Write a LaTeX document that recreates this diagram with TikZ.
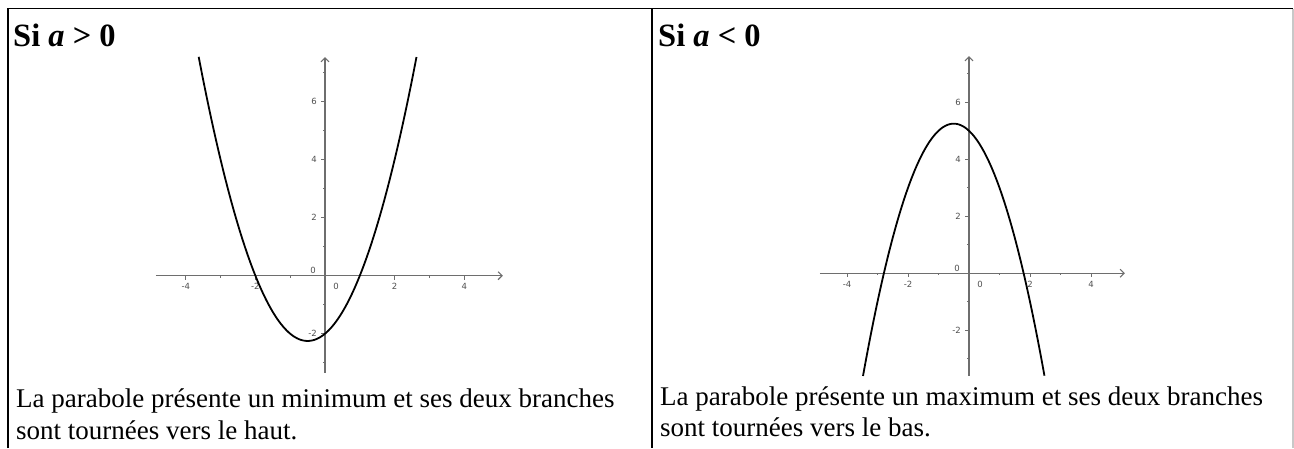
\documentclass[tikz,border=0pt]{standalone}
\usepackage{fontspec}
\setmainfont{Liberation Serif}
\newfontfamily\axfont{DejaVu Sans}
\usetikzlibrary{arrows.meta}
\definecolor{axgray}{HTML}{6E6E6E}
\definecolor{labgray}{HTML}{505050}
\definecolor{rightgray}{HTML}{C8C8C8}
\begin{document}
\begin{tikzpicture}[x=1pt,y=-1pt,
  frame/.style={line width=1.5pt,black},
  axisline/.style={draw=axgray,line width=1.1pt,-{Straight Barb[length=4pt,width=8pt]}},
  tickmark/.style={draw=axgray,line width=0.9pt},
  curve/.style={line width=1.8pt,black},
  lab/.style={font=\axfont\fontsize{8.5}{10}\selectfont,text=labgray,inner sep=0pt},
  head/.style={font=\fontsize{32.5}{38}\selectfont\bfseries,anchor=base west,inner sep=0pt},
  body/.style={font=\fontsize{27}{31}\selectfont,anchor=base west,inner sep=0pt},
]
\fill[white] (0,0) rectangle (1294,448);
\useasboundingbox (0,0) rectangle (1294,448);

% table frame
\coordinate (tl) at (8,8.5);
\coordinate (tr) at (1293,8.5);
\coordinate (bl) at (8,448);
\coordinate (br) at (1293,448);
\coordinate (tm) at (652,8.5);
\coordinate (bm) at (652,448);
\draw[frame] (bl) -- (tl) -- (tr);
\draw[frame] (tm) -- (bm);
\draw[line width=1.5pt,rightgray] (tr) -- (br);

% headers
\node[head] (hL) at (13,46.5) {Si \textit{a} > 0};
\node[head] (hR) at (658,46.5) {Si \textit{a} < 0};

% body texts
\node[body] (tL1) at (16,407.5) {La parabole présente un minimum et ses deux branches};
\node[body] (tL2) at (16,439) {sont tournées vers le haut.};
\node[body] (tR1) at (660,405) {La parabole présente un maximum et ses deux branches};
\node[body] (tR2) at (660,436) {sont tournées vers le bas.};

% left graph: a > 0
\begin{scope}[xshift=325pt,yshift=-275.7pt,x=34.8pt,y=29pt]
  \draw[axisline] (-4.86,0) -- (5.11,0);
  \draw[axisline] (0,-3.35) -- (0,7.54);
  \foreach \i in {-4,-2,2,4} {
    \draw[tickmark] (\i,0) -- ++(0,-4pt);
    \node[lab] (Lx\i) at ([yshift=-11pt]\i,0) {\i};
  }
  \foreach \i in {-3,-1,1,3} \draw[tickmark] (\i,0) -- ++(0,-2pt);
  \foreach \j in {-2,2,4,6} {
    \draw[tickmark] (0,\j) -- ++(-4pt,0);
    \node[lab,anchor=east] (Ly\j) at ([xshift=-8pt]0,\j) {\j};
  }
  \foreach \j in {-3,-1,1,3,5,7} \draw[tickmark] (0,\j) -- ++(-2pt,0);
  \node[lab] (Lx0) at ([xshift=11pt,yshift=-11pt]0,0) {0};
  \node[lab] (Ly0) at ([xshift=-12pt,yshift=5pt]0,0) {0};
  \draw[curve] plot[domain=-3.63:2.63,samples=120,smooth] (\x,{\x*\x+\x-2});
\end{scope}

% right graph: a < 0
\begin{scope}[xshift=969pt,yshift=-273.3pt,x=30.5pt,y=28.5pt]
  \draw[axisline] (-4.89,0) -- (5.11,0);
  \draw[axisline] (0,-3.6) -- (0,7.62);
  \foreach \i in {-4,-2,2,4} {
    \draw[tickmark] (\i,0) -- ++(0,-4pt);
    \node[lab] (Rx\i) at ([yshift=-11pt]\i,0) {\i};
  }
  \foreach \i in {-3,-1,1,3} \draw[tickmark] (\i,0) -- ++(0,-2pt);
  \foreach \j in {-2,2,4,6} {
    \draw[tickmark] (0,\j) -- ++(-4pt,0);
    \node[lab,anchor=east] (Ry\j) at ([xshift=-8pt]0,\j) {\j};
  }
  \foreach \j in {-3,-1,1,3,5,7} \draw[tickmark] (0,\j) -- ++(-2pt,0);
  \node[lab] (Rx0) at ([xshift=11pt,yshift=-11pt]0,0) {0};
  \node[lab] (Ry0) at ([xshift=-12pt,yshift=5pt]0,0) {0};
  \draw[curve] plot[domain=-3.475:2.475,samples=120,smooth] (\x,{-\x*\x-\x+5});
\end{scope}
\end{tikzpicture}
\end{document}
